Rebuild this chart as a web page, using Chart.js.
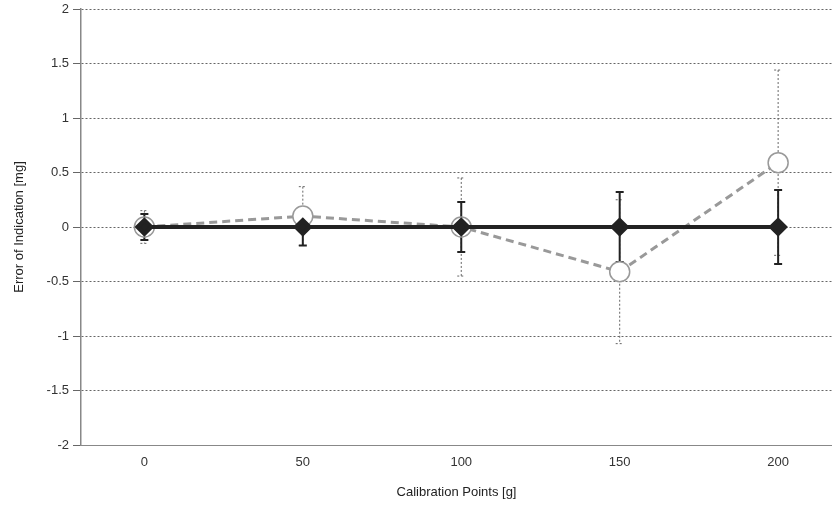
<!DOCTYPE html>
<html>
<head>
<meta charset="utf-8">
<script src="https://cdn.jsdelivr.net/npm/chart.js@4"></script>
<style>
    html, body { margin: 0; padding: 0; background: #fff; }
    #wrap { width: 832px; height: 508px; }
</style>
</head>
<body>
<div id="wrap"><canvas id="errChart"></canvas></div>
<script>
const xPoints = [0, 50, 100, 150, 200];
const yTicks = [-2, -1.5, -1, -0.5, 0, 0.5, 1, 1.5, 2];
const referenceVals = [0, 0, 0, 0, 0];
const referenceErr = [0.12, 0.17, 0.23, 0.32, 0.34];
const measuredVals = [0, 0.1, 0, -0.41, 0.59];
const measuredErr = [0.15, 0.27, 0.45, 0.66, 0.85];

// chart.js has no error bars, so draw them from the scales before the lines
const errorBars = {
    id: "errorBars",
    beforeDatasetsDraw(chart) {
        const ctx = chart.ctx;
        const xs = chart.scales.x;
        const ys = chart.scales.y;
        const sets = [
            { vals: measuredVals, err: measuredErr, color: "#666", width: 1, dash: [2, 2], cap: 4 },
            { vals: referenceVals, err: referenceErr, color: "#222", width: 2, dash: [], cap: 4 }
        ];
        ctx.save();
        sets.forEach((s) => {
            ctx.strokeStyle = s.color;
            ctx.lineWidth = s.width;
            ctx.setLineDash(s.dash);
            xPoints.forEach((xv, i) => {
                const px = xs.getPixelForValue(xv);
                const top = ys.getPixelForValue(s.vals[i] + s.err[i]);
                const bot = ys.getPixelForValue(s.vals[i] - s.err[i]);
                ctx.beginPath();
                ctx.moveTo(px, top);
                ctx.lineTo(px, bot);
                ctx.moveTo(px - s.cap, top);
                ctx.lineTo(px + s.cap, top);
                ctx.moveTo(px - s.cap, bot);
                ctx.lineTo(px + s.cap, bot);
                ctx.stroke();
            });
        });
        ctx.restore();
    }
};

const chartCtx = document.getElementById("errChart");

new Chart(chartCtx, {
    type: "line",
    data: {
        datasets: [{
            label: "Reference",
            data: xPoints.map((x, i) => ({ x: x, y: referenceVals[i] })),
            borderColor: "#222",
            borderWidth: 4,
            pointStyle: "rectRot",
            pointRadius: 7,
            pointBackgroundColor: "#222",
            pointBorderColor: "#222",
            order: 0
        }, {
            label: "Measured",
            data: xPoints.map((x, i) => ({ x: x, y: measuredVals[i] })),
            borderColor: "#999",
            borderWidth: 3,
            borderDash: [8, 5],
            pointStyle: "circle",
            pointRadius: 10,
            pointBackgroundColor: "#fff",
            pointBorderColor: "#999",
            pointBorderWidth: 1.5,
            order: 1
        }]
    },
    options: {
        animation: false,
        responsive: true,
        maintainAspectRatio: false,
        layout: {
            autoPadding: false,
            padding: { top: 9, right: 0, left: 8, bottom: 0 }
        },
        plugins: {
            legend: { display: false },
            tooltip: { enabled: false }
        },
        scales: {
            x: {
                type: "linear",
                min: -20,
                max: 217,
                afterBuildTicks: (scale) => {
                    scale.ticks = xPoints.map((v) => ({ value: v }));
                },
                afterFit: (scale) => {
                    scale.height = 63;
                    scale.paddingRight = 0;
                    scale.paddingLeft = 0;
                },
                grid: { display: false },
                border: { color: "#888", width: 1 },
                ticks: {
                    color: "#333",
                    padding: 2,
                    font: { family: "Liberation Sans", size: 13 }
                },
                title: {
                    display: true,
                    text: "Calibration Points [g]",
                    color: "#222",
                    padding: { top: 0, bottom: 8 },
                    font: { family: "Liberation Sans", size: 13 }
                }
            },
            y: {
                min: -2,
                max: 2,
                afterBuildTicks: (scale) => {
                    scale.ticks = yTicks.map((v) => ({ value: v }));
                },
                afterFit: (scale) => {
                    scale.width = 73;
                    scale.paddingTop = 0;
                    scale.paddingBottom = 0;
                },
                grid: {
                    color: "#666",
                    lineWidth: 1,
                    tickLength: 8,
                    tickColor: "#666"
                },
                border: { color: "#888", width: 1.5, dash: [2, 2] },
                ticks: {
                    color: "#333",
                    padding: 4,
                    font: { family: "Liberation Sans", size: 13 },
                    callback: (v) => String(v)
                },
                title: {
                    display: true,
                    text: "Error of Indication [mg]",
                    color: "#222",
                    padding: { bottom: 2 },
                    font: { family: "Liberation Sans", size: 13 }
                }
            }
        }
    },
    plugins: [errorBars]
});
</script>
</body>
</html>
